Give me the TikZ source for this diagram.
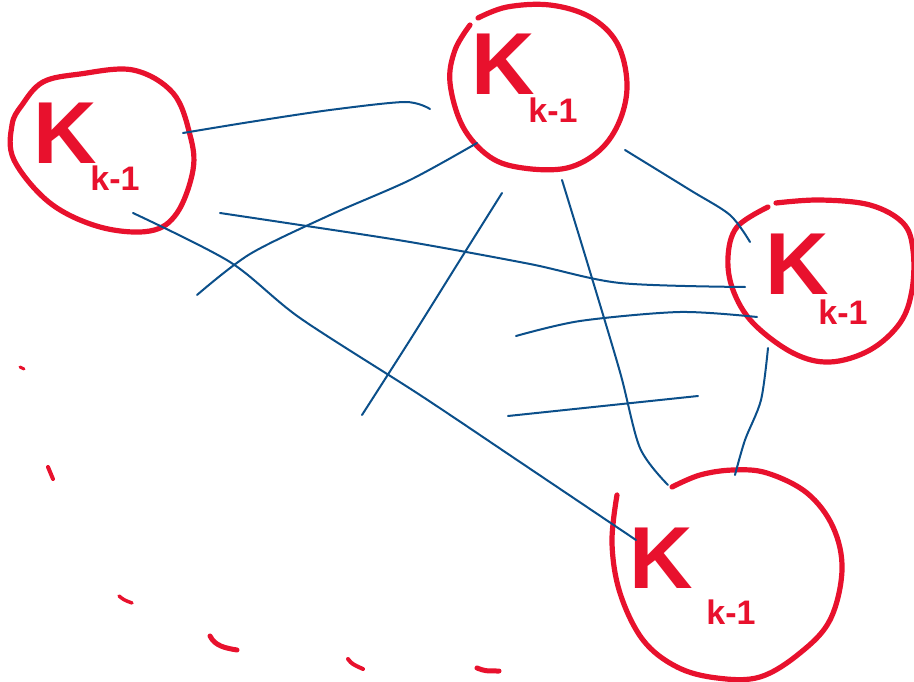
\documentclass[tikz,border=0pt]{standalone}
\usepackage{fontspec}
\setmainfont{Liberation Sans}
\definecolor{penred}{HTML}{E8112D}
\definecolor{penblue}{HTML}{0B4F8A}
\tikzset{
  ring/.style={draw=penred, line width=5.2pt, line cap=round, line join=round},
  link/.style={draw=penblue, line width=2pt, line cap=round},
  dashmark/.style={draw=penred, line width=4pt, line cap=round},
  bigk/.style={text=penred, font=\fontsize{88}{88}\selectfont\bfseries, inner sep=0pt},
  subk/.style={text=penred, font=\fontsize{34}{34}\selectfont\bfseries, inner sep=0pt},
}
\begin{document}
\begin{tikzpicture}[x=1pt,y=-1pt]
\useasboundingbox (0,0) rectangle (914,682);

% ---- four hand-drawn rings ----
\draw[ring] plot[smooth cycle, tension=0.6] coordinates {
  (43,82) (80,74) (133,70) (173,93) (190,135) (193,170) (177,213) (150,231)
  (100,227) (50,203) (14,160) (12,125) (22,105)};
\draw[ring] plot[smooth, tension=0.6] coordinates {
  (478,18) (507,7) (550,5) (590,17) (617,43) (627,83) (620,120) (600,150)
  (567,168) (523,168) (490,157) (463,127) (450,83) (455,50) (470,25)};
\draw[ring] plot[smooth, tension=0.6] coordinates {
  (776,203) (820,200) (870,205) (903,223) (913,250) (912,290) (900,323)
  (870,350) (830,362) (793,353) (753,323) (733,290) (728,257) (737,227) (768,207)};
\draw[ring] plot[smooth, tension=0.6] coordinates {
  (617,495) (612,543) (620,593) (643,640) (677,667) (717,678) (760,677)
  (800,653) (830,620) (842,570) (833,527) (807,493) (767,473) (733,470)
  (700,475) (672,487)};

% ---- ring labels ----
\node[bigk] (k1) at (65,133) {K};
\node[subk] (s1) at (115,178) {k-1};
\node[bigk] (k2) at (503,64) {K};
\node[subk] (s2) at (553,110) {k-1};
\node[bigk] (k3) at (797,264) {K};
\node[subk] (s3) at (843,312) {k-1};
\node[bigk] (k4) at (661,558) {K};
\node[subk] (s4) at (731,612) {k-1};

% ---- loose end points of the blue strokes ----
\coordinate (a0) at (183,133);  \coordinate (a1) at (430,109);
\coordinate (b0) at (220,213);  \coordinate (b1) at (745,287);
\coordinate (c0) at (133,213);  \coordinate (c1) at (636,540);
\coordinate (d0) at (197,295);  \coordinate (d1) at (477,143);
\coordinate (e0) at (362,415);  \coordinate (e1) at (502,193);
\coordinate (f0) at (562,180);  \coordinate (f1) at (668,485);
\coordinate (g0) at (625,150);  \coordinate (g1) at (750,242);
\coordinate (h0) at (516,336);  \coordinate (h1) at (757,317);
\coordinate (i0) at (508,416);  \coordinate (i1) at (698,396);
\coordinate (j0) at (768,348);  \coordinate (j1) at (735,475);

% ---- blue strokes ----
\draw[link] plot[smooth] coordinates {(a0) (250,122) (330,110) (405,102) (a1)};
\draw[link] plot[smooth] coordinates {(b0) (300,225) (410,242) (530,264) (620,283) (b1)};
\draw[link] plot[smooth] coordinates {(c0) (230,262) (300,318) (420,395) (520,462) (c1)};
\draw[link] plot[smooth] coordinates {(d0) (250,254) (330,215) (410,180) (d1)};
\draw[link] plot[smooth] coordinates {(e0) (410,340) (460,260) (e1)};
\draw[link] plot[smooth] coordinates {(f0) (588,265) (620,372) (640,448) (f1)};
\draw[link] plot[smooth] coordinates {(g0) (690,190) (730,215) (g1)};
\draw[link] plot[smooth] coordinates {(h0) (580,321) (680,312) (h1)};
\draw[link] (i0) -- (i1);
\draw[link] plot[smooth] coordinates {(j0) (761,400) (745,440) (j1)};

% ---- red dashes trailing off to the lower left ----
\draw[dashmark, line width=3pt] (20,367) -- (24,369);
\draw[dashmark] (48,467) -- (53,479);
\draw[dashmark, line width=3.5pt] (119,596) .. controls (124,600) .. (132,603);
\draw[dashmark, line width=5pt] (210,636) .. controls (215,646) and (225,648) .. (237,650);
\draw[dashmark] (348,659) .. controls (352,664) .. (363,669);
\draw[dashmark, line width=5pt] (477,668) .. controls (485,671) .. (499,671);
\end{tikzpicture}
\end{document}
